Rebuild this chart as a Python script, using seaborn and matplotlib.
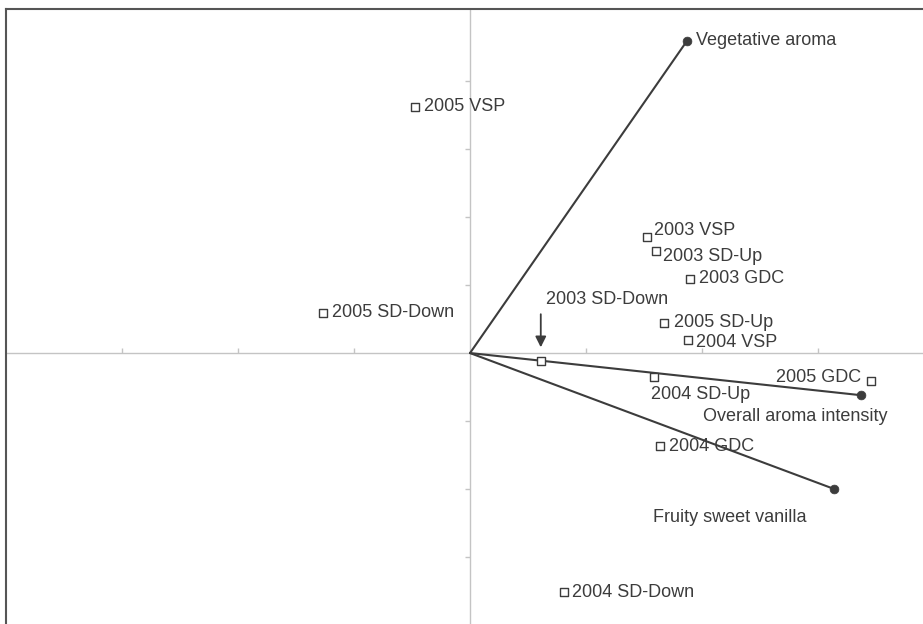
"""
Biplot of aroma attributes and vineyard treatments
"""

import matplotlib.pyplot as plt
import pandas as pd
import seaborn as sns

# =========================================================
# Data
# =========================================================

SAMPLES = [
    "2005 VSP", "2005 SD-Down", "2003 VSP", "2003 SD-Up", "2003 GDC",
    "2005 SD-Up", "2004 VSP", "2003 SD-Down", "2004 SD-Up", "2005 GDC",
    "2004 GDC", "2004 SD-Down",
]
SAMPLE_X = [-0.47, -1.27, 1.53, 1.60, 1.90, 1.67, 1.88, 0.61, 1.59, 3.46, 1.64, 0.81]
SAMPLE_Y = [3.62, 0.59, 1.71, 1.50, 1.09, 0.44, 0.19, -0.12, -0.35, -0.41, -1.37, -3.52]

ATTRIBUTES = ["Vegetative aroma", "Overall aroma intensity", "Fruity sweet vanilla"]
ATTR_X = [1.87, 3.37, 3.14]
ATTR_Y = [4.59, -0.62, -2.00]

X_TICKS = [-3, -2, -1, 1, 2, 3]
Y_TICKS = [-3, -2, -1, 1, 2, 3, 4]

# =========================================================
# Label placement (offset in pixels, horizontal alignment)
# =========================================================

SAMPLE_LABEL_POS = {
    "2005 VSP": (9, 0, "left"),
    "2005 SD-Down": (9, 0, "left"),
    "2003 VSP": (7, 6, "left"),
    "2003 SD-Up": (7, -5, "left"),
    "2003 GDC": (9, 0, "left"),
    "2005 SD-Up": (10, 1, "left"),
    "2004 VSP": (8, -2, "left"),
    "2003 SD-Down": (5, 62, "left"),
    "2004 SD-Up": (-3, -18, "left"),
    "2005 GDC": (-10, 3, "right"),
    "2004 GDC": (9, 0, "left"),
    "2004 SD-Down": (8, 0, "left"),
}

ATTR_LABEL_POS = {
    "Vegetative aroma": (9, 0, "left"),
    "Overall aroma intensity": (27, -21, "right"),
    "Fruity sweet vanilla": (-28, -28, "right"),
}

# =========================================================
# Plot Settings
# =========================================================

sns.set_theme(style="white")
plt.rcParams["font.family"] = ["Liberation Sans", "DejaVu Sans"]

DARK = "#3c3c3c"
LIGHT = "#c4c4c4"
FONT_SIZE = 13


def main():

    samples = pd.DataFrame({"name": SAMPLES, "x": SAMPLE_X, "y": SAMPLE_Y})
    attrs = pd.DataFrame({"name": ATTRIBUTES, "x": ATTR_X, "y": ATTR_Y})

    fig = plt.figure(figsize=(9.23, 6.24), dpi=100)
    ax = fig.add_axes([6 / 923, 0, 917 / 923, 615 / 624])

    # axis cross through origin
    ax.axhline(0, color=LIGHT, lw=1, zorder=1)
    ax.axvline(0, color=LIGHT, lw=1, zorder=1)
    ax.plot(X_TICKS, [0] * len(X_TICKS), ls="none", marker=2,
            markersize=3.5, color=LIGHT, mew=1, zorder=1)
    ax.plot([0] * len(Y_TICKS), Y_TICKS, ls="none", marker=0,
            markersize=3.5, color=LIGHT, mew=1, zorder=1)

    # attribute vectors
    for _, row in attrs.iterrows():
        ax.plot([0, row.x], [0, row.y], color=DARK, lw=1.5, zorder=2)

    sns.scatterplot(
        data=attrs, x="x", y="y", ax=ax,
        marker="o", s=40, color=DARK, edgecolor=DARK, zorder=3,
    )

    sns.scatterplot(
        data=samples, x="x", y="y", ax=ax,
        marker="s", s=28, facecolor="white", edgecolor=DARK,
        linewidth=1, zorder=4,
    )

    for _, row in samples.iterrows():
        dx, dy, ha = SAMPLE_LABEL_POS[row["name"]]
        ax.annotate(
            row["name"], (row.x, row.y),
            xytext=(dx, dy), textcoords="offset pixels",
            ha=ha, va="center", fontsize=FONT_SIZE, color=DARK,
        )

    for _, row in attrs.iterrows():
        dx, dy, ha = ATTR_LABEL_POS[row["name"]]
        ax.annotate(
            row["name"], (row.x, row.y),
            xytext=(dx, dy), textcoords="offset pixels",
            ha=ha, va="center", fontsize=FONT_SIZE, color=DARK,
        )

    # arrow pointing at 2003 SD-Down
    sd = samples[samples["name"] == "2003 SD-Down"].iloc[0]
    ax.annotate(
        "", (sd.x, sd.y),
        xytext=(0, 47), textcoords="offset pixels",
        arrowprops=dict(arrowstyle="-|>", color=DARK, lw=1.3,
                        shrinkA=0, shrinkB=10, mutation_scale=16),
    )

    ax.set_xlim(-4.0, 3.905)
    ax.set_ylim(-3.985, 5.06)
    ax.set_xticks([])
    ax.set_yticks([])
    ax.set_xlabel("")
    ax.set_ylabel("")

    for side in ["right", "bottom"]:
        ax.spines[side].set_visible(False)
    for side in ["top", "left"]:
        ax.spines[side].set_color("#555555")
        ax.spines[side].set_linewidth(1.5)

    fig.savefig("out.png", dpi=100)
    plt.close(fig)


if __name__ == "__main__":
    main()
